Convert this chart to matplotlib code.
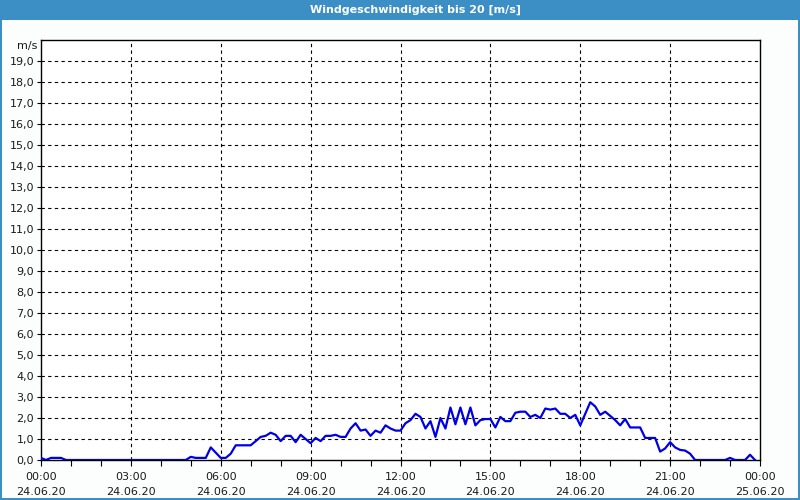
import matplotlib
matplotlib.use('Agg')
import matplotlib.pyplot as plt
import numpy as np
from matplotlib.patches import Rectangle

# Messwerte alle 10 Minuten, 24.06.20 00:00 bis 23:50
speed = [
    0.1, 0.0, 0.1, 0.1, 0.1, 0.0,      # 00
    0.0, 0.0, 0.0, 0.0, 0.0, 0.0,      # 01
    0.0, 0.0, 0.0, 0.0, 0.0, 0.0,      # 02
    0.0, 0.0, 0.0, 0.0, 0.0, 0.0,      # 03
    0.0, 0.0, 0.0, 0.0, 0.0, 0.0,      # 04
    0.15, 0.1, 0.1, 0.1, 0.6, 0.35,    # 05
    0.1, 0.1, 0.3, 0.7, 0.7, 0.7,      # 06
    0.7, 0.9, 1.1, 1.15, 1.3, 1.2,     # 07
    0.9, 1.15, 1.15, 0.85, 1.2, 1.0,   # 08
    0.8, 1.05, 0.9, 1.15, 1.15, 1.2,   # 09
    1.1, 1.1, 1.5, 1.75, 1.4, 1.45,    # 10
    1.15, 1.4, 1.3, 1.65, 1.5, 1.4,    # 11
    1.4, 1.75, 1.9, 2.2, 2.05, 1.5,    # 12
    1.85, 1.1, 2.0, 1.5, 2.5, 1.7,     # 13
    2.5, 1.7, 2.5, 1.65, 1.9, 1.95,    # 14
    1.95, 1.55, 2.05, 1.85, 1.85, 2.25,  # 15
    2.3, 2.3, 2.05, 2.15, 2.0, 2.45,   # 16
    2.4, 2.45, 2.2, 2.2, 2.0, 2.15,    # 17
    1.65, 2.2, 2.75, 2.55, 2.15, 2.3,  # 18
    2.1, 1.9, 1.65, 1.95, 1.55, 1.55,  # 19
    1.55, 1.05, 1.05, 1.05, 0.4, 0.55,  # 20
    0.85, 0.6, 0.48, 0.45, 0.3, 0.0,   # 21
    0.0, 0.0, 0.0, 0.0, 0.0, 0.0,      # 22
    0.1, 0.0, 0.0, 0.0, 0.25, 0.0,     # 23
]
x_ticks = [0, 3, 6, 9, 12, 15, 18, 21, 24]
x_labels = ['00:00\n24.06.20', '03:00\n24.06.20', '06:00\n24.06.20',
            '09:00\n24.06.20', '12:00\n24.06.20', '15:00\n24.06.20',
            '18:00\n24.06.20', '21:00\n24.06.20', '00:00\n25.06.20']
y_ticks = list(range(0, 20))
y_labels = ['%d,0' % v for v in y_ticks]

hours = np.arange(len(speed)) / 6.0

blau = '#3c8fc5'
txt = '#1a1a1a'

fig = plt.figure(figsize=(8, 5), dpi=100)
fig.patch.set_facecolor('#fcfefe')

# Rahmen und Titelleiste
fig.add_artist(Rectangle((0, 480 / 500), 1, 20 / 500, transform=fig.transFigure,
                         facecolor=blau, edgecolor='none', zorder=0))
fig.add_artist(Rectangle((0, 0), 2 / 800, 1, transform=fig.transFigure,
                         facecolor=blau, edgecolor='none'))
fig.add_artist(Rectangle((798 / 800, 0), 2 / 800, 1, transform=fig.transFigure,
                         facecolor=blau, edgecolor='none'))
fig.add_artist(Rectangle((0, 0), 1, 2 / 500, transform=fig.transFigure,
                         facecolor=blau, edgecolor='none'))
fig.text(415 / 800, 490 / 500, 'Windgeschwindigkeit bis 20 [m/s]', color='white',
         fontsize=8, fontweight='bold', ha='center', va='center')

ax = fig.add_axes([41 / 800, 40 / 500, 719 / 800, 420 / 500])
ax.set_facecolor('white')
ax.plot(hours, speed, color='#0000e6', linewidth=1.6, zorder=3)

ax.set_xlim(0, 24)
ax.set_ylim(0, 20)
ax.set_xticks(x_ticks)
ax.set_xticklabels(x_labels, fontsize=8, color=txt, linespacing=1.6)
ax.set_xticks(range(0, 25), minor=True)
ax.set_yticks(y_ticks)
ax.set_yticklabels(y_labels, fontsize=8, color=txt)
ax.tick_params(axis='x', which='both', direction='out', length=4, width=0.8, pad=5)
ax.tick_params(axis='y', direction='out', length=3, width=0.8, pad=2)

for y in range(1, 20):
    ax.axhline(y, color='black', linewidth=0.8, linestyle=(0, (3, 3)), zorder=1)
for x in range(3, 24, 3):
    ax.axvline(x, color='black', linewidth=0.8, linestyle=(0, (3, 3)), zorder=1)

for s in ax.spines.values():
    s.set_linewidth(1.0)
    s.set_color('black')

ax.text(-0.005, 19.7, 'm/s', transform=ax.get_yaxis_transform(), fontsize=8,
        color=txt, ha='right', va='center')

fig.savefig('out.png', dpi=100)
